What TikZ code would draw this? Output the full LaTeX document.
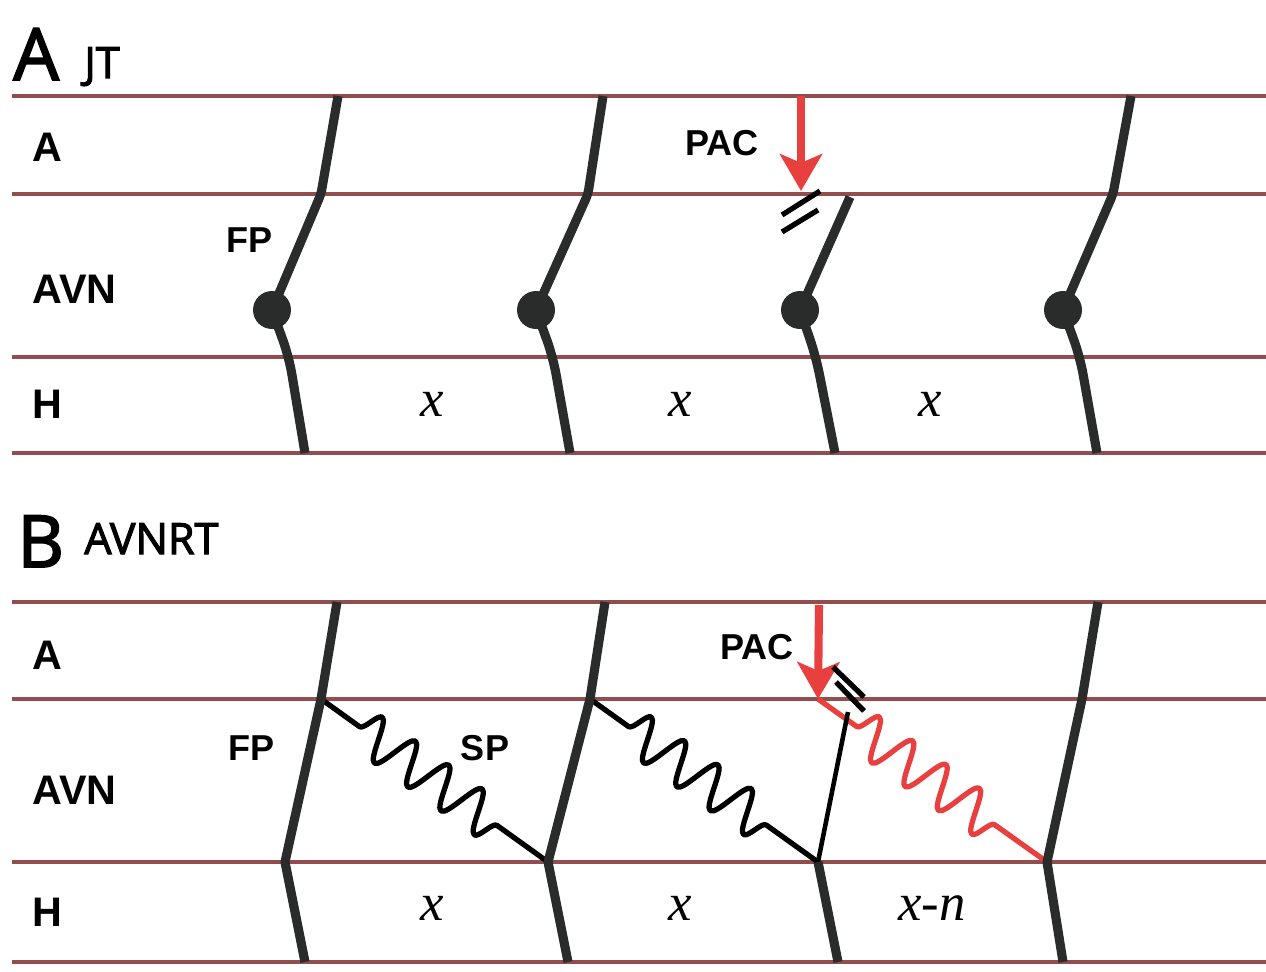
\documentclass[tikz,border=0pt]{standalone}
\usepackage{fontspec}
\setsansfont{Liberation Sans}
\newfontfamily\titlefont[FakeBold=2.5]{Open Sans}
\newfontfamily\varfont{Liberation Serif}
\usepackage{tikz}
\usetikzlibrary{arrows.meta,decorations.pathmorphing}
\definecolor{rulered}{RGB}{146,78,78}
\definecolor{pacred}{RGB}{232,64,62}
\definecolor{ink}{RGB}{42,44,44}

\begin{document}
\begin{tikzpicture}[
    x=0.02cm, y=0.02cm,
    rule/.style={draw=rulered, line width=1.8pt},
    beat/.style={draw=ink, line width=5.2pt, line join=round},
    dotnode/.style={circle, fill=ink, inner sep=0pt, minimum size=0.76cm},
    pac/.style={draw=pacred, line width=4.6pt, -{Stealth[length=21pt,width=24pt,inset=5pt]}},
    blockmark/.style={draw=black, line width=3pt},
    spwave/.style={line width=3pt, line join=round, decorate, decoration={snake, segment length=0.82cm, amplitude=0.42cm, pre length=0.95cm, post length=1.1cm}},
    rowlbl/.style={anchor=west, inner sep=0pt, font=\sffamily\bfseries\fontsize{23.5}{23.5}\selectfont},
    lbl/.style={inner sep=0pt, font=\sffamily\bfseries\fontsize{20.5}{20.5}\selectfont},
    cyclen/.style={inner sep=0pt, font=\varfont\itshape\fontsize{30}{30}\selectfont},
    panelltr/.style={anchor=base west, inner sep=0pt, font=\titlefont\fontsize{41}{41}\selectfont},
    paneltitle/.style={anchor=base west, inner sep=0pt, font=\titlefont\fontsize{24.5}{24.5}\selectfont}
]
  \useasboundingbox (0,0) rectangle (1266,-972);

  % Panel A: JT
  \node[panelltr] (ltrA) at (13,-80) {A};
  \node[paneltitle] (ttlA) at (84,-78) {JT};
  \draw[rule] (12,-96) -- (1266,-96);
  \draw[rule] (12,-194) -- (1266,-194);
  \draw[rule] (12,-357) -- (1266,-357);
  \draw[rule] (12,-453) -- (1266,-453);
  \node[rowlbl] (rowAa) at (32,-147) {A};
  \node[rowlbl] (rowAv) at (32,-289) {AVN};
  \node[rowlbl] (rowAh) at (32,-404) {H};

  % junctional beats
  \node[dotnode] (a1dot) at (272,-310) {};
  \coordinate (a1top) at (338,-96);
  \coordinate (a1av) at (321,-194);
  \coordinate (a1his) at (289,-357);
  \coordinate (a1end) at (305,-453);
  \draw[beat, rounded corners=3pt] (a1top) -- (a1av) -- (a1dot.center);
  \draw[beat, rounded corners=10pt] (a1dot.center) -- (a1his) -- (a1end);

  \node[dotnode] (a2dot) at (536,-310) {};
  \coordinate (a2top) at (603,-96);
  \coordinate (a2av) at (588,-194);
  \coordinate (a2his) at (553,-357);
  \coordinate (a2end) at (570,-453);
  \draw[beat, rounded corners=3pt] (a2top) -- (a2av) -- (a2dot.center);
  \draw[beat, rounded corners=10pt] (a2dot.center) -- (a2his) -- (a2end);

  \node[dotnode] (a3dot) at (800,-310) {};
  \coordinate (a3top) at (850,-197);
  \coordinate (a3his) at (816,-357);
  \coordinate (a3end) at (835,-453);
  \draw[beat] (a3top) -- (a3dot.center);
  \draw[beat, rounded corners=10pt] (a3dot.center) -- (a3his) -- (a3end);

  \node[dotnode] (a4dot) at (1063,-310) {};
  \coordinate (a4top) at (1131,-96);
  \coordinate (a4av) at (1113,-194);
  \coordinate (a4his) at (1080,-357);
  \coordinate (a4end) at (1097,-453);
  \draw[beat, rounded corners=3pt] (a4top) -- (a4av) -- (a4dot.center);
  \draw[beat, rounded corners=10pt] (a4dot.center) -- (a4his) -- (a4end);

  % PAC and block
  \coordinate (pacAtop) at (801,-96);
  \coordinate (pacAtip) at (801,-191);
  \draw[pac] (pacAtop) -- (pacAtip);
  \draw[blockmark] (782,-215) -- (820,-191);
  \draw[blockmark] (782,-232) -- (818,-210);

  \node[lbl] (fpA) at (250,-240) {FP};
  \node[lbl] (pacAl) at (722,-143) {PAC};
  \node[cyclen] (xA1) at (432,-404) {x};
  \node[cyclen] (xA2) at (680,-404) {x};
  \node[cyclen] (xA3) at (930,-404) {x};

  % Panel B: AVNRT
  \node[panelltr] (ltrB) at (17,-567) {B};
  \node[paneltitle] (ttlB) at (84,-554) {AVNRT};
  \draw[rule] (12,-602) -- (1266,-602);
  \draw[rule] (12,-699) -- (1266,-699);
  \draw[rule] (12,-862) -- (1266,-862);
  \draw[rule] (12,-962) -- (1266,-962);
  \node[rowlbl] (rowBa) at (32,-655) {A};
  \node[rowlbl] (rowBv) at (32,-790) {AVN};
  \node[rowlbl] (rowBh) at (32,-912) {H};

  \coordinate (b1top) at (337,-602);
  \coordinate (b1av) at (321,-699);
  \coordinate (b1his) at (285,-862);
  \coordinate (b1end) at (305,-962);
  \coordinate (b2top) at (605,-602);
  \coordinate (b2av) at (590,-699);
  \coordinate (b2his) at (548,-862);
  \coordinate (b2end) at (568,-962);
  \coordinate (b3av) at (848,-712);
  \coordinate (b3his) at (818,-862);
  \coordinate (b3end) at (838,-962);
  \coordinate (b4top) at (1098,-602);
  \coordinate (b4av) at (1082,-699);
  \coordinate (b4his) at (1047,-862);
  \coordinate (b4end) at (1063,-962);
  \coordinate (pacBtop) at (819,-605);
  \coordinate (pacBtip) at (818,-699);

  % slow pathway
  \draw[spwave, draw=black] (b1av) -- (b2his);
  \draw[spwave, draw=black] (b2av) -- (b3his);
  \draw[spwave, draw=pacred] (pacBtip) -- (b4his);

  % fast pathway
  \draw[beat] (b1top) -- (b1av) -- (b1his) -- (b1end);
  \draw[beat] (b2top) -- (b2av) -- (b2his) -- (b2end);
  \draw[draw=black, line width=2.6pt] (b3av) -- (b3his);
  \draw[beat] (b3his) -- (b3end);
  \draw[beat] (b4top) -- (b4av) -- (b4his) -- (b4end);

  \draw[pac] (pacBtop) -- (pacBtip);
  \draw[blockmark] (833,-667) -- (864,-697);
  \draw[blockmark] (836,-682) -- (864,-711);

  \node[lbl] (fpB) at (252,-748) {FP};
  \node[lbl] (spB) at (485,-748) {SP};
  \node[lbl] (pacBl) at (757,-647) {PAC};
  \node[cyclen] (xB1) at (432,-908) {x};
  \node[cyclen] (xB2) at (680,-908) {x};
  \node[cyclen] (xB3) at (932,-908) {x-n};
\end{tikzpicture}
\end{document}
